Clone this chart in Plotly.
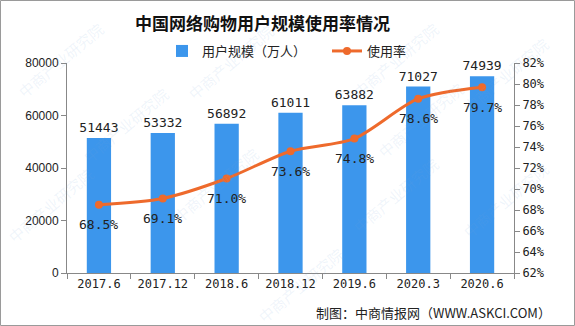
import plotly.graph_objects as go

# Online shopping users in China and usage rate
periods = ["2017.6", "2017.12", "2018.6", "2018.12", "2019.6", "2020.3", "2020.6"]
users = [51443, 53332, 56892, 61011, 63882, 71027, 74939]          # 万人
usage_rate = [68.5, 69.1, 71.0, 73.6, 74.8, 78.6, 79.7]             # %

left_ticks = [0, 20000, 40000, 60000, 80000]
right_ticks = list(range(62, 83, 2))

W, H = 575, 326
ML, MR, MT, MB = 67, 61, 63, 53
PW, PH = W - ML - MR, H - MT - MB

BLUE = "#3C96EC"
ORANGE = "#EE6A2C"
MONO = "DejaVu Sans Mono, monospace"
CJK = "Noto Sans CJK SC, sans-serif"

fig = go.Figure()

fig.add_trace(go.Bar(
    x=periods, y=users, name="用户规模（万人）",
    marker=dict(color=BLUE, line=dict(width=0)),
    text=[str(v) for v in users], textposition="outside",
    constraintext="none",
    textfont=dict(family=MONO, size=13, color="#222222"),
    cliponaxis=False,
))

fig.add_trace(go.Scatter(
    x=periods, y=usage_rate, name="使用率", yaxis="y2",
    mode="lines+markers",
    line=dict(color=ORANGE, width=3, shape="spline", smoothing=0.8),
    marker=dict(color=ORANGE, size=8),
    cliponaxis=False,
))

# rate labels sit below each point (x given as category index)
for i, v in enumerate(usage_rate):
    fig.add_annotation(
        x=i, y=v, xref="x", yref="y2", yshift=-20, showarrow=False,
        text=f"{v:.1f}%", font=dict(family=MONO, size=13, color="#222222"),
    )

# faint diagonal watermark text
def px(x):
    return (x - ML) / PW

def py(y):
    return (H - MB - y) / PH

marks = [(60, 60), (230, 62), (395, 60), (505, 75), (50, 205), (215, 185),
         (395, 195), (505, 200), (125, 125), (420, 120), (300, 285)]
for mx, my in marks:
    fig.add_annotation(
        x=px(mx), y=py(my), xref="paper", yref="paper",
        xanchor="center", yanchor="middle",
        text="中商产业研究院", showarrow=False, textangle=-40,
        font=dict(family=CJK, size=15, color="rgba(120,165,215,0.12)"),
    )

# outer frame
fig.add_shape(
    type="rect", xref="paper", yref="paper",
    x0=px(0.5), x1=px(W - 0.5), y0=py(H - 0.5), y1=py(0.5),
    line=dict(color="#9a9a9a", width=1), layer="above",
)

fig.add_annotation(
    x=px(262), y=py(22), xref="paper", yref="paper",
    xanchor="center", yanchor="middle",
    text="<b>中国网络购物用户规模使用率情况</b>", showarrow=False,
    font=dict(family=CJK, size=17, color="#111111"),
)
fig.add_annotation(
    x=px(553), y=py(312), xref="paper", yref="paper",
    xanchor="right", yanchor="middle",
    text="制图：中商情报网（WWW.ASKCI.COM）", showarrow=False,
    font=dict(family=CJK, size=13, color="#222222"),
)

fig.update_layout(
    width=W, height=H,
    margin=dict(l=ML, r=MR, t=MT, b=MB),
    paper_bgcolor="white", plot_bgcolor="white",
    bargap=0.62,
    showlegend=True,
    legend=dict(
        orientation="h", x=px(162), y=py(51), xanchor="left", yanchor="middle",
        font=dict(family=CJK, size=13, color="#222222"),
        bgcolor="rgba(0,0,0,0)", itemwidth=30, entrywidth=120,
    ),
    xaxis=dict(
        type="category", range=[-0.5, len(periods) - 0.5],
        showline=True, linecolor="#888888", linewidth=1,
        ticks="outside", tickson="boundaries", ticklen=5, tickcolor="#888888",
        tickfont=dict(family=MONO, size=12, color="#222222"),
        showgrid=False, zeroline=False,
    ),
    yaxis=dict(
        range=[0, 80000], tickvals=left_ticks,
        ticktext=[str(t) for t in left_ticks],
        showline=True, linecolor="#888888", linewidth=1,
        ticks="outside", ticklen=5, tickcolor="#888888",
        tickfont=dict(family="Liberation Sans, Arial, sans-serif", size=12, color="#222222"),
        showgrid=False, zeroline=False,
    ),
    yaxis2=dict(
        range=[62, 82], tickvals=right_ticks,
        ticktext=[f"{t}%" for t in right_ticks],
        overlaying="y", side="right",
        showline=True, linecolor="#888888", linewidth=1,
        ticks="outside", ticklen=5, tickcolor="#888888",
        tickfont=dict(family=MONO, size=12, color="#222222"),
        showgrid=False, zeroline=False,
    ),
)

fig.write_html("out.html")
